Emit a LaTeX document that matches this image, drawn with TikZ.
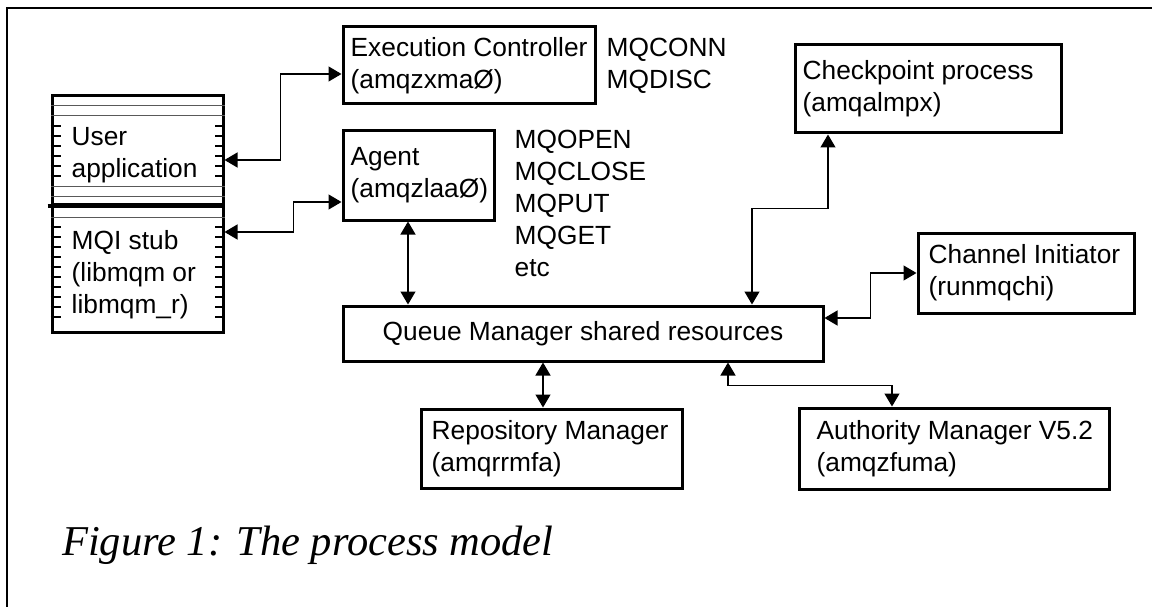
\documentclass[tikz,border=0pt]{standalone}
\usepackage{fontspec}
\setmainfont{Liberation Sans}
\newfontfamily\capfont{Liberation Serif}
\usetikzlibrary{arrows.meta,positioning}

\begin{document}
\begin{tikzpicture}[
        x=1pt, y=-1pt,
        proc/.style={draw, line width=3pt, minimum width=#1},
        txt/.style={inner sep=0pt, align=left, font=\fontsize{26.3}{32}\selectfont},
        link/.style={{Triangle[length=13pt,width=15pt]}-{Triangle[length=13pt,width=15pt]}, line width=1.3pt},
        rule/.style={line width=1pt, gray!70!black},
        tickmark/.style={line width=1.3pt}
    ]
        \useasboundingbox (0,0) rectangle (1152,607);
        \draw[line width=1.8pt] (1152,8) -- (7,8) -- (7,607);

        % processes
        \node[proc=252pt, minimum height=77pt] (exec) at (469,65.5) {};
        \node[proc=151pt, minimum height=89pt] (agent) at (418.5,175.5) {};
        \node[proc=266pt, minimum height=88pt] (ckpt) at (928,89) {};
        \node[proc=216pt, minimum height=80pt] (chan) at (1026,273) {};
        \node[proc=480pt, minimum height=55pt] (qm) at (583,333.5) {};
        \node[proc=261pt, minimum height=79pt] (repo) at (551.5,448.5) {};
        \node[proc=310pt, minimum height=81pt] (auth) at (954,448.5) {};

        % user program
        \node[proc=171pt, minimum height=109pt] (app) at (137.5,150.5) {};
        \node[proc=171pt, minimum height=127pt] (stub) at (137.5,268.5) {};
        \foreach \y in {106,116,187,197,217}
            \draw[rule] (app.west |- 0,\y) -- (app.east |- 0,\y);
        \foreach \y in {126,136,...,176,227,237,...,322} {
            \draw[tickmark] (app.west |- 0,\y) -- ++(10,0);
            \draw[tickmark] (app.east |- 0,\y) -- ++(-10,0);
        }
        \draw[line width=4pt] ([xshift=-3pt]app.south west) -- (app.south east);

        % labels
        \node[txt, anchor=west] (applbl) at ([xshift=21pt,yshift=-5pt]app.west) {User\\application};
        \node[txt, anchor=west] (stublbl) at ([xshift=21pt,yshift=-6pt]stub.west) {MQI stub\\(libmqm or\\libmqm\_r)};
        \node[txt, anchor=west] (execlbl) at ([xshift=9pt]exec.west) {Execution Controller\\(amqzxmaØ)};
        \node[txt, anchor=west] (agentlbl) at ([xshift=9pt]agent.west) {Agent\\(amqzlaaØ)};
        \node[txt, anchor=west] (ckptlbl) at ([xshift=9pt]ckpt.west) {Checkpoint process\\(amqalmpx)};
        \node[txt, anchor=west] (chanlbl) at ([xshift=12pt]chan.west) {Channel Initiator\\(runmqchi)};
        \node[txt] (qmlbl) at (qm) {Queue Manager shared resources};
        \node[txt, anchor=west] (repolbl) at ([xshift=12pt]repo.west) {Repository Manager\\(amqrrmfa)};
        \node[txt, anchor=west] (authlbl) at ([xshift=19pt]auth.west) {Authority Manager V5.2\\(amqzfuma)};

        \node[txt, right=10pt of exec] (execcalls) {MQCONN\\MQDISC};
        \node[txt, anchor=north west] (agentcalls) at ([xshift=19pt]agent.north east) {MQOPEN\\MQCLOSE\\MQPUT\\MQGET\\etc};

        % connectors
        \draw[link] ([yshift=-9.5pt]app.east) -- ++(56,0) |- ([yshift=-8.5pt]exec.west);
        \draw[link] ([yshift=36.5pt]stub.east) -- ++(69,0) |- ([yshift=-26.5pt]agent.west);
        \draw[link] ([xshift=-10.5pt]agent.south) -- ([xshift=-10.5pt]agent.south |- qm.north);
        \draw[link] ([xshift=-100pt]ckpt.south) -- ++(0,74) -| ([xshift=169pt]qm.north);
        \draw[link] (chan.west) -- ++(-46,0) |- ([yshift=15.5pt]qm.east);
        \draw[link] ([xshift=-40pt]qm.south) -- ([xshift=-40pt]qm.south |- repo.north);
        \draw[link] ([xshift=145pt]qm.south) -- ++(0,23) -| ([xshift=-62pt]auth.north);

        \node[inner sep=0pt, anchor=base west, font=\capfont\itshape\fontsize{42.5}{50}\selectfont] (cap) at (62,555) {Figure 1: The process model};
    \end{tikzpicture}
\end{document}
